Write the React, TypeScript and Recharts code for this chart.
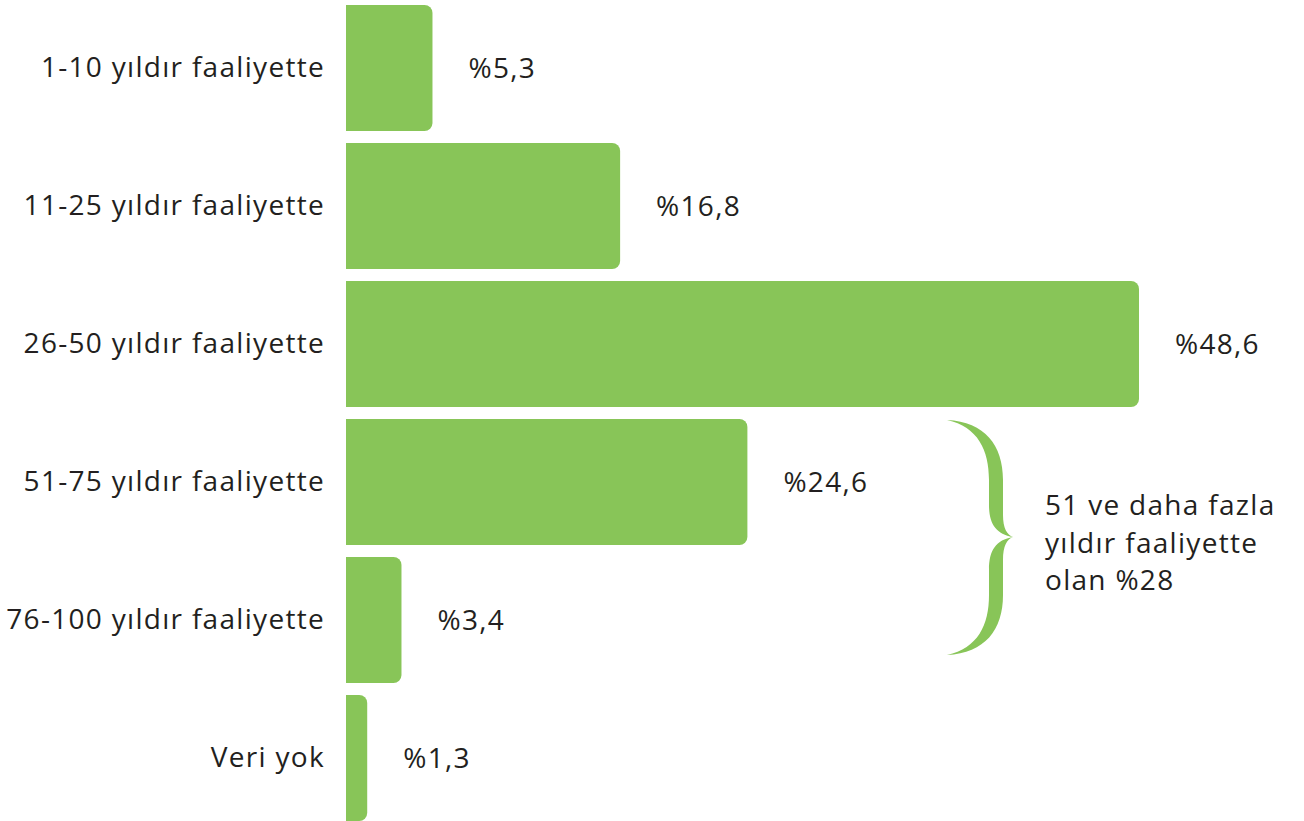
import { Bar, BarChart, LabelList, XAxis, YAxis } from 'recharts'

const categories = [
  '1-10 yıldır faaliyette',
  '11-25 yıldır faaliyette',
  '26-50 yıldır faaliyette',
  '51-75 yıldır faaliyette',
  '76-100 yıldır faaliyette',
  'Veri yok',
]
const shares = [5.3, 16.8, 48.6, 24.6, 3.4, 1.3]
const braceNote = ['51 ve daha fazla', 'yıldır faaliyette', 'olan %28']

const data = categories.map((name, i) => ({ name, value: shares[i] }))

const GREEN = '#88c558'
const INK = '#231f20'
const FONT = '"Open Sans", sans-serif'
const SPACING = 1.3

const CategoryTick = (props: any) => {
  const { x, y, payload } = props
  return (
    <text x={x} y={y} dy={9} textAnchor="end" fill={INK} fontSize={28} fontFamily={FONT} letterSpacing={SPACING}>
      {payload.value}
    </text>
  )
}

export default function App() {
  return (
    <div style={{ position: 'absolute', left: 0, top: 0, width: 1304, height: 821, overflow: 'hidden', background: '#fff' }}>
      <div style={{ position: 'absolute', left: 0, top: -1 }}>
        <BarChart
          width={1304}
          height={828}
          data={data}
          layout="vertical"
          margin={{ top: 0, right: 165, bottom: 0, left: 0 }}
          barCategoryGap={6}
        >
          <XAxis type="number" domain={[0, 48.6]} hide />
          <YAxis
            type="category"
            dataKey="name"
            width={346}
            axisLine={false}
            tickLine={false}
            tickSize={0}
            tickMargin={21}
            tick={<CategoryTick />}
          />
          <Bar dataKey="value" fill={GREEN} radius={[0, 8, 8, 0]} isAnimationActive={false}>
            <LabelList
              dataKey="value"
              position="right"
              offset={36}
              formatter={(v: any) => `%${String(v).replace('.', ',')}`}
              fill={INK}
              fontSize={28}
              fontFamily={FONT}
              letterSpacing={SPACING}
            />
          </Bar>
        </BarChart>
      </div>
      <svg width={1304} height={821} style={{ position: 'absolute', left: 0, top: 0, pointerEvents: 'none' }}>
        <path
          d="M947,420 C985,422 1003,445 1003,480 L1003,515 C1003,528 1007,535 1013,537 C1007,539 1003,546 1003,560 L1003,595 C1003,630 985,653 947,655 C978,648 989,625 989,595 L989,570 C989,550 996,540 1013,537 C996,534 989,524 989,505 L989,480 C989,450 978,427 947,420 Z"
          fill={GREEN}
        />
        {braceNote.map((line, i) => (
          <text key={line} x={1045} y={515 + i * 37.5} fill={INK} fontSize={28} fontFamily={FONT} letterSpacing={SPACING}>
            {line}
          </text>
        ))}
      </svg>
    </div>
  )
}
